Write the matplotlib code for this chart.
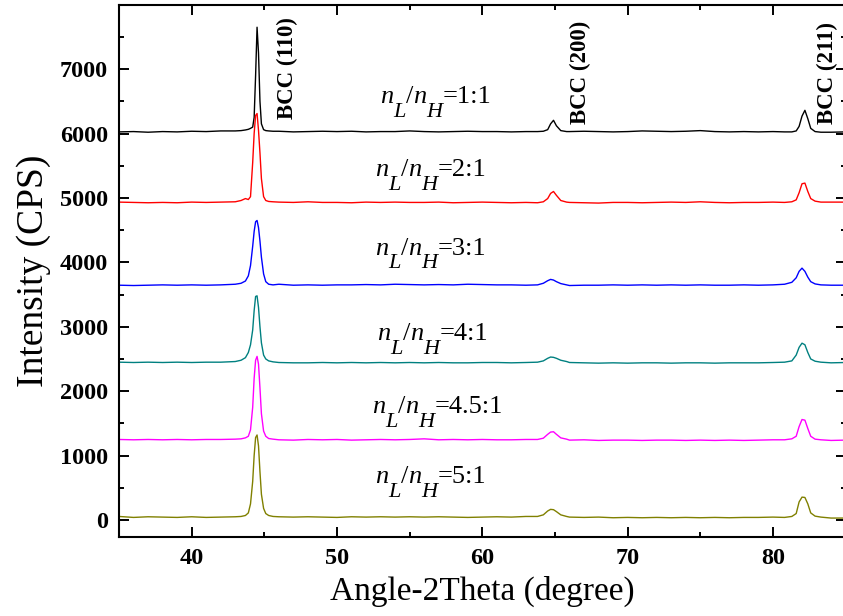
import matplotlib
matplotlib.use("Agg")
import matplotlib.pyplot as plt
from matplotlib.ticker import MultipleLocator

plt.rcParams['font.family'] = ['Liberation Serif', 'DejaVu Serif']

# 2theta grid (denser around the three BCC peaks)
two_theta = [35, 36, 37, 38, 39, 40, 41, 42, 43,
             43.4, 43.7, 43.9, 44.05, 44.2, 44.3, 44.4, 44.5, 44.6, 44.7, 44.8, 44.95, 45.1, 45.3, 45.6,
             46, 47, 48, 49, 50, 51, 52, 53, 54, 55, 56, 57, 58, 59, 60, 61, 62, 63,
             63.8, 64.2, 64.5, 64.7, 64.9, 65.1, 65.4, 65.8,
             66, 67, 68, 69, 70, 71, 72, 73, 74, 75, 76, 77, 78, 79, 80,
             80.8, 81.3, 81.6, 81.8, 82.0, 82.2, 82.4, 82.6, 82.9, 83.3,
             84, 85]

int_1_1 = [6025, 6030, 6020, 6030, 6025, 6035, 6030, 6040, 6040,
           6045, 6055, 6065, 6080, 6100, 6250, 6900, 7650, 7250, 6500, 6150, 6060, 6045, 6040, 6035,
           6035, 6025, 6030, 6035, 6030, 6035, 6025, 6030, 6030, 6040, 6030, 6025, 6030, 6035, 6030, 6030, 6025, 6030,
           6030, 6035, 6060, 6150, 6205, 6120, 6045, 6030,
           6030, 6035, 6030, 6025, 6030, 6040, 6035, 6030, 6035, 6045, 6030, 6025, 6030, 6025, 6030,
           6025, 6025, 6040, 6110, 6270, 6360, 6230, 6080, 6030, 6020,
           6020, 6025]

int_2_1 = [4935, 4930, 4925, 4930, 4925, 4935, 4930, 4935, 4940,
           4960, 4990, 4975, 5020, 5550, 6000, 6280, 6310, 6050, 5700, 5300, 5020, 4960, 4945, 4940,
           4935, 4930, 4940, 4930, 4930, 4925, 4935, 4930, 4935, 4930, 4930, 4935, 4925, 4930, 4935, 4930, 4925, 4930,
           4925, 4940, 4990, 5070, 5100, 5040, 4960, 4935,
           4930, 4925, 4920, 4930, 4930, 4925, 4930, 4935, 4930, 4940, 4930, 4925, 4930, 4930, 4935,
           4930, 4940, 4970, 5080, 5220, 5230, 5100, 4990, 4950, 4935,
           4935, 4935]

int_3_1 = [3645, 3640, 3645, 3650, 3645, 3650, 3645, 3650, 3660,
           3675, 3710, 3790, 3950, 4250, 4480, 4630, 4650, 4540, 4330, 4080, 3820, 3700, 3660, 3650,
           3660, 3645, 3650, 3645, 3650, 3650, 3655, 3650, 3660, 3655, 3650, 3655, 3650, 3660, 3655, 3650, 3650, 3645,
           3650, 3675, 3715, 3735, 3725, 3700, 3670, 3650,
           3640, 3645, 3645, 3650, 3645, 3650, 3645, 3650, 3645, 3650, 3645, 3645, 3650, 3645, 3650,
           3660, 3690, 3760, 3860, 3910, 3860, 3770, 3700, 3665, 3650,
           3645, 3645]

int_4_1 = [2450, 2445, 2450, 2445, 2450, 2445, 2450, 2450, 2460,
           2480, 2520, 2600, 2720, 2950, 3250, 3470, 3480, 3300, 3000, 2750, 2560, 2500, 2470, 2455,
           2445, 2440, 2440, 2445, 2440, 2445, 2440, 2445, 2440, 2445, 2440, 2445, 2440, 2440, 2445, 2445, 2440, 2445,
           2450, 2470, 2510, 2530, 2525, 2510, 2480, 2460,
           2445, 2440, 2435, 2440, 2435, 2440, 2440, 2435, 2440, 2440, 2435, 2440, 2440, 2440, 2445,
           2450, 2470, 2560, 2680, 2745, 2720, 2600, 2500, 2465, 2450,
           2440, 2445]

int_4_5_1 = [1250, 1245, 1250, 1245, 1250, 1245, 1250, 1250, 1255,
             1260, 1275, 1300, 1400, 1750, 2200, 2480, 2540, 2420, 2050, 1650, 1380, 1300, 1265, 1255,
             1245, 1240, 1250, 1245, 1250, 1240, 1245, 1250, 1245, 1250, 1260, 1245, 1250, 1245, 1250, 1245, 1245, 1250,
             1250, 1270, 1330, 1365, 1370, 1330, 1275, 1255,
             1240, 1245, 1235, 1240, 1240, 1235, 1240, 1240, 1235, 1240, 1235, 1240, 1235, 1240, 1245,
             1245, 1260, 1300, 1450, 1560, 1550, 1420, 1300, 1255, 1245,
             1235, 1240]

int_5_1 = [55, 40, 50, 45, 40, 50, 40, 45, 50,
           55, 70, 110, 250, 600, 1000, 1280, 1320, 1150, 750, 400, 180, 100, 70, 55,
           50, 45, 50, 45, 40, 50, 45, 50, 45, 50, 45, 50, 45, 40, 45, 50, 45, 55,
           55, 80, 140, 165, 160, 130, 80, 55,
           45, 40, 45, 35, 40, 35, 40, 35, 40, 35, 40, 35, 40, 40, 45,
           40, 55, 100, 280, 355, 350, 250, 110, 60, 45,
           30, 30]

series = [int_1_1, int_2_1, int_3_1, int_4_1, int_4_5_1, int_5_1]
colors = ['black', '#FF0000', '#0000FF', '#008080', '#FF00FF', '#808000']
ratio_labels = ['1:1', '2:1', '3:1', '4:1', '4.5:1', '5:1']
label_x = [52.96, 52.62, 52.62, 52.76, 52.41, 52.62]
label_y = [6470, 5334, 4121, 2799, 1664, 575]

peak_names = ['BCC (110)', 'BCC (200)', 'BCC (211)']
peak_x = [46.56, 66.73, 83.73]
peak_y = [6220, 6143, 6143]

fig = plt.figure(figsize=(8.43, 6.16), dpi=100)
ax = fig.add_axes([119 / 843, 79 / 616, 726.6 / 843, 532 / 616])

for vals, c in zip(series, colors):
    ax.plot(two_theta, vals, color=c, lw=1.0)


def ratio_label(x, y, ratio):
    # n_L/n_H with big, low subscripts like the original
    main, sub, drop = 19, 16, -10
    n1 = ax.text(x, y, 'n', fontsize=main, style='italic', va='baseline')
    s1 = ax.annotate('L', xy=(1, 0), xycoords=n1, xytext=(0, drop),
                     textcoords='offset points', fontsize=sub, style='italic', va='bottom')
    sl = ax.annotate('/', xy=(1, 0), xycoords=(s1, n1), fontsize=main, va='bottom')
    n2 = ax.annotate('n', xy=(1, 0), xycoords=sl, fontsize=main, style='italic', va='bottom')
    s2 = ax.annotate('H', xy=(1, 0), xycoords=n2, xytext=(0, drop),
                     textcoords='offset points', fontsize=sub, style='italic', va='bottom')
    ax.annotate('=' + ratio, xy=(1, 0), xycoords=(s2, n1), fontsize=main, va='bottom')


for lab, x, y in zip(ratio_labels, label_x, label_y):
    ratio_label(x, y, lab)

for name, x, y in zip(peak_names, peak_x, peak_y):
    ax.text(x, y, name, rotation=90, fontsize=16.5, fontweight='bold',
            ha='center', va='bottom')

ax.set_xlim(35, 85)
ax.set_ylim(-264, 7995)
ax.xaxis.set_major_locator(MultipleLocator(10))
ax.xaxis.set_minor_locator(MultipleLocator(5))
ax.yaxis.set_major_locator(MultipleLocator(1000))
ax.yaxis.set_minor_locator(MultipleLocator(500))
ax.tick_params(which='both', direction='in', top=True, right=True, width=1.4)
ax.tick_params(which='major', length=7, labelsize=17.5, pad=8)
ax.tick_params(which='minor', length=3.6)
for lab in ax.get_xticklabels() + ax.get_yticklabels():
    lab.set_fontweight('bold')
for sp in ax.spines.values():
    sp.set_linewidth(1.5)

ax.set_xlabel('Angle-2Theta (degree)', fontsize=24, labelpad=5)
ax.set_ylabel('Intensity (CPS)', fontsize=27, labelpad=6)

fig.savefig('out.png', dpi=100)
